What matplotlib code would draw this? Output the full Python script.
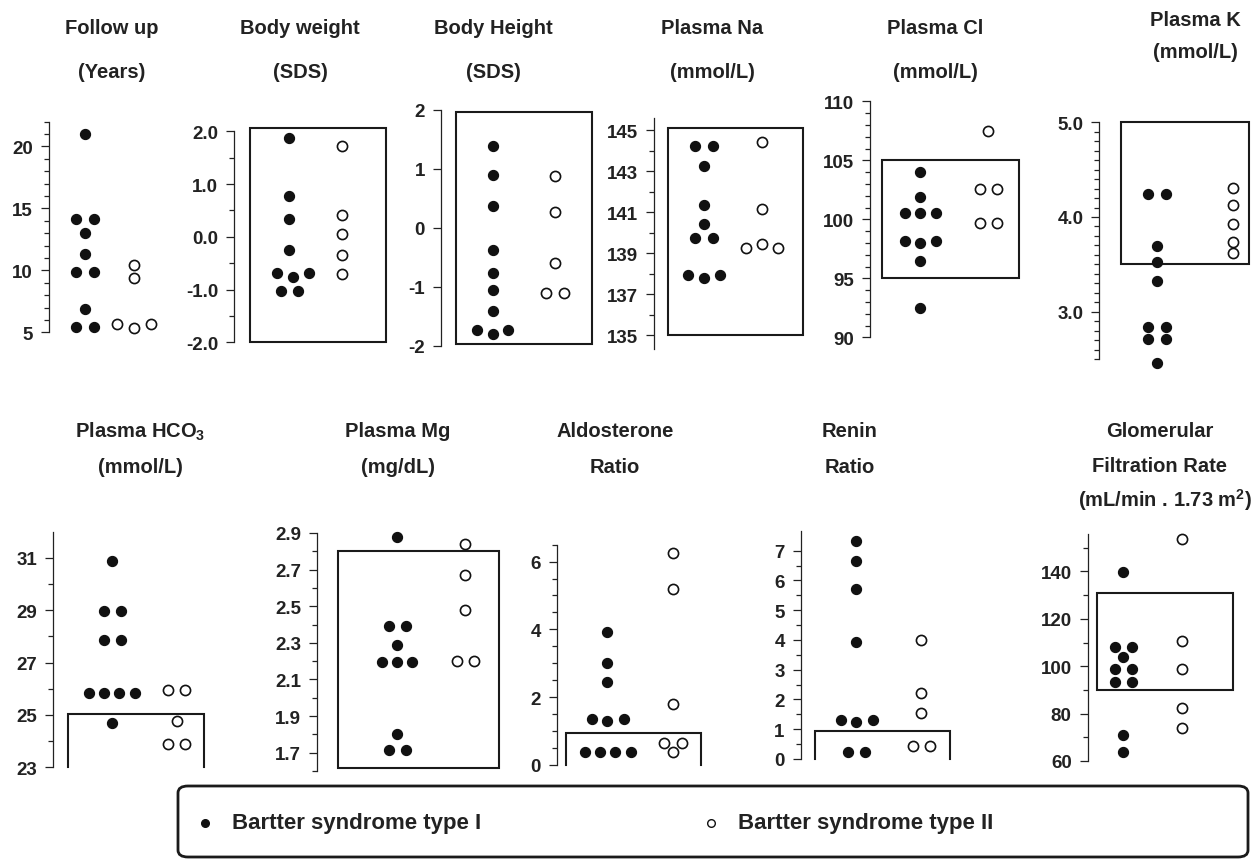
import matplotlib
matplotlib.use('Agg')
import matplotlib.pyplot as plt
from matplotlib.patches import FancyBboxPatch, Rectangle
from matplotlib.lines import Line2D

plt.rcParams['font.family'] = ['Liberation Sans', 'DejaVu Sans']
plt.rcParams['font.weight'] = 'bold'
plt.rcParams['mathtext.fontset'] = 'custom'
plt.rcParams['mathtext.rm'] = 'Liberation Sans:bold'
plt.rcParams['mathtext.bf'] = 'Liberation Sans:bold'
plt.rcParams['mathtext.it'] = 'Liberation Sans:bold'

# ---------------- data ----------------
followup_I = [21.0, 14.1, 14.1, 13.0, 11.3, 9.9, 9.9, 6.9, 5.4, 5.4]
followup_II = [10.4, 9.4, 5.7, 5.35, 5.7]
weight_I = [1.87, 0.78, 0.33, -0.25, -0.69, -0.77, -0.69, -1.03, -1.03]
weight_II = [1.73, 0.41, 0.06, -0.34, -0.71]
height_I = [1.38, 0.89, 0.37, -0.37, -0.76, -1.06, -1.40, -1.73, -1.79, -1.73]
height_II = [0.87, 0.26, -0.59, -1.10, -1.10]
na_I = [144.2, 144.2, 143.25, 141.35, 140.4, 139.75, 139.75, 137.95, 137.8, 137.95]
na_II = [144.4, 141.15, 139.45, 139.25, 139.25]
cl_I = [104.0, 101.85, 100.5, 100.5, 100.5, 98.2, 97.95, 98.2, 96.5, 92.5]
cl_II = [107.5, 102.6, 102.6, 99.7, 99.7]
k_I = [4.24, 4.24, 3.69, 3.52, 3.32, 2.84, 2.84, 2.71, 2.71, 2.46]
k_II = [4.31, 4.13, 3.93, 3.74, 3.62]
hco3_I = [30.89, 28.97, 28.97, 27.84, 27.84, 25.85, 25.85, 25.85, 25.85, 24.7]
hco3_II = [25.94, 25.94, 24.76, 23.89, 23.89]
mg_I = [2.876, 2.39, 2.39, 2.286, 2.195, 2.195, 2.195, 1.80, 1.714, 1.714]
mg_II = [2.84, 2.67, 2.48, 2.20, 2.20]
aldo_I = [3.91, 3.02, 2.46, 1.37, 1.29, 1.37, 0.39, 0.39, 0.39, 0.39]
aldo_II = [6.26, 5.19, 1.80, 0.65, 0.65, 0.37]
renin_I = [7.31, 6.64, 5.70, 3.93, 1.32, 1.23, 1.32, 0.245, 0.245]
renin_II = [4.0, 2.23, 1.55, 0.45, 0.45]
gfr_I = [139.9, 108.1, 108.1, 103.9, 99.0, 99.0, 93.5, 93.5, 71.1, 64.0]
gfr_II = [153.8, 110.7, 98.7, 82.4, 73.9]

# normal ranges (low, high)
weight_range = (-2.0, 2.06)
height_range = (-1.97, 1.96)
na_range = (135.0, 145.1)
cl_range = (95.0, 105.0)
k_range = (3.5, 5.0)
hco3_range = (23.0, 25.05)
mg_range = (1.615, 2.80)
aldo_range = (0.0, 0.95)
renin_range = (0.0, 0.95)
gfr_range = (90.0, 131.0)

legend_labels = ['Bartter syndrome type I', 'Bartter syndrome type II']

# ---------------- layout ----------------
W, H = 1251, 862
fig = plt.figure(figsize=(W / 100, H / 100), dpi=100)

UNIT = 16.0  # px per horizontal slot

panels = [
    dict(I=followup_I, II=followup_II, rng=None,
         offI=[0, -.55, .55, 0, 0, -.55, .55, 0, -.55, .55], offII=[0, 0, -1.05, 0, 1.05],
         sx=49, rx=175, ylim=(5, 22), ypx=(333.3, 122.5), sb=(5, 22),
         major=[5, 10, 15, 20], labels=['5', '10', '15', '20'], minor=list(range(6, 23)),
         cI=85, cII=134.3, box=None, openb=False),
    dict(I=weight_I, II=weight_II, rng=weight_range,
         offI=[0, 0, 0, 0, -0.75, 0.27, 1.22, -0.52, 0.56], offII=[0] * 5,
         sx=234.3, rx=386, ylim=(-2, 2.06), ypx=(343.3, 129.1), sb=(-2, 2),
         major=[-2, -1, 0, 1, 2], labels=['-2.0', '-1.0', '0.0', '1.0', '2.0'],
         minor=[-1.5, -0.5, 0.5, 1.5],
         cI=289, cII=342.3, box=(250.3, 386), openb=False),
    dict(I=height_I, II=height_II, rng=height_range,
         offI=[0] * 7 + [-1, 0, 0.98], offII=[0, 0, 0, -0.57, 0.55],
         sx=441, rx=592, ylim=(-2, 2), ypx=(347, 110.7), sb=(-2, 2),
         major=[-2, -1, 0, 1, 2], labels=['-2', '-1', '0', '1', '2'], minor=[],
         cI=492.7, cII=555, box=(456, 592), openb=False),
    dict(I=na_I, II=na_II, rng=na_range,
         offI=[-.52, .55, 0, 0, 0, -.52, .55, -1, 0, 1], offII=[0, 0, 0, -1, 1],
         sx=654, rx=803, ylim=(134.3, 145.6), ypx=(350.4, 118.7), sb=(134.3, 145.6),
         major=[135, 137, 139, 141, 143, 145], labels=['135', '137', '139', '141', '143', '145'],
         minor=[136, 138, 140, 142, 144],
         cI=703.7, cII=761.7, box=(667.7, 803), openb=False),
    dict(I=cl_I, II=cl_II, rng=cl_range,
         offI=[0, 0, -.96, 0, .96, -.96, 0, .96, 0, 0], offII=[0, -.55, .55, -.55, .55],
         sx=870, rx=1018.7, ylim=(90, 110), ypx=(338.3, 102.3), sb=(90, 110),
         major=[90, 95, 100, 105, 110], labels=['90', '95', '100', '105', '110'],
         minor=[v for v in range(91, 110) if v % 5],
         cI=920.3, cII=988.3, box=(882.3, 1018.7), openb=False),
    dict(I=k_I, II=k_II, rng=k_range,
         offI=[-.52, .58, 0, 0, 0, -.52, .58, -.52, .58, 0], offII=[0] * 5,
         sx=1099.3, rx=1249, ylim=(2.5, 5.0), ypx=(360.05, 123.3), sb=(2.5, 5.0),
         major=[3.0, 4.0, 5.0], labels=['3.0', '4.0', '5.0'],
         minor=[round(2.5 + 0.1 * i, 1) for i in range(26) if round(2.5 + 0.1 * i, 1) not in (3.0, 4.0, 5.0)],
         cI=1156.7, cII=1232.7, box=(1121, 1249), openb=False),
    dict(I=hco3_I, II=hco3_II, rng=hco3_range,
         offI=[0, -.48, .56, -.48, .56, -1.4, -.46, .48, 1.46, 0], offII=[-.52, .52, 0, -.52, .52],
         sx=53.3, rx=204, ylim=(23, 32), ypx=(768.3, 532.5), sb=(23, 32),
         major=[23, 25, 27, 29, 31], labels=['23', '25', '27', '29', '31'], minor=[24, 26, 28, 30],
         cI=111.7, cII=176.7, box=(68.3, 204), openb=True),
    dict(I=mg_I, II=mg_II, rng=mg_range,
         offI=[0, -.52, .54, 0, -.94, 0, .92, 0, -.52, .54], offII=[0, 0, 0, -.54, .54],
         sx=317.3, rx=499.3, ylim=(1.6, 2.9), ypx=(772, 534), sb=(1.6, 2.9),
         major=[1.7, 1.9, 2.1, 2.3, 2.5, 2.7, 2.9], labels=['1.7', '1.9', '2.1', '2.3', '2.5', '2.7', '2.9'],
         minor=[1.6, 1.8, 2.0, 2.2, 2.4, 2.6, 2.8],
         cI=397.3, cII=465.3, box=(337.7, 499.3), openb=False),
    dict(I=aldo_I, II=aldo_II, rng=aldo_range,
         offI=[0, 0, 0, -.96, 0, 1.04, -1.36, -.42, .52, 1.47], offII=[0, 0, 0, -.55, .58, 0],
         sx=556.7, rx=701.3, ylim=(0, 6.5), ypx=(766, 545.6), sb=(0, 6.5),
         major=[0, 2, 4, 6], labels=['0', '2', '4', '6'], minor=[0.5, 1, 1.5, 2.5, 3, 3.5, 4.5, 5, 5.5, 6.5],
         cI=607, cII=672.7, box=(565.7, 701.3), openb=True),
    dict(I=renin_I, II=renin_II, rng=renin_range,
         offI=[0, 0, 0, 0, -.94, 0, 1.04, -.52, .58], offII=[0, 0, 0, -.52, .56],
         sx=800.7, rx=950, ylim=(0, 7.65), ypx=(760, 532.3), sb=(0, 7.65),
         major=list(range(8)), labels=[str(i) for i in range(8)],
         minor=[i + 0.5 for i in range(7)],
         cI=856, cII=921, box=(815, 950), openb=True),
    dict(I=gfr_I, II=gfr_II, rng=gfr_range,
         offI=[0, -.5, .6, 0, -.5, .6, -.5, .6, 0, 0], offII=[0] * 5,
         sx=1087.7, rx=1233.3, ylim=(60, 156), ypx=(762, 534.5), sb=(60, 156),
         major=[60, 80, 100, 120, 140], labels=['60', '80', '100', '120', '140'],
         minor=[70, 90, 110, 130, 150],
         cI=1122.7, cII=1181.7, box=(1097.3, 1233.3), openb=False),
]

MS = 7.3
for p in panels:
    ylo_px, yhi_px = p['ypx']
    ax = fig.add_axes([p['sx'] / W, 1 - ylo_px / H, (p['rx'] - p['sx']) / W, (ylo_px - yhi_px) / H])
    ax.set_xlim(p['sx'], p['rx'])
    ax.set_ylim(*p['ylim'])
    ax.patch.set_alpha(0)
    for s in ('top', 'right', 'bottom'):
        ax.spines[s].set_visible(False)
    ax.spines['left'].set_bounds(*p['sb'])
    ax.spines['left'].set_linewidth(0.9)
    ax.spines['left'].set_color('#222222')
    ax.set_xticks([])
    ax.set_yticks(p['major'])
    ax.set_yticklabels(p['labels'])
    ax.set_yticks(p['minor'], minor=True)
    ax.tick_params(axis='y', which='major', length=5.5, width=0.9, labelsize=13.5, pad=6,
                   color='#222222', labelcolor='#222222')
    ax.tick_params(axis='y', which='minor', length=3.5, width=0.9, color='#222222')
    for lab in ax.get_yticklabels():
        lab.set_fontweight('bold')

    if p['box'] is not None:
        x0, x1 = p['box']
        lo, hi = p['rng']
        if p['openb']:
            ax.plot([x0, x0, x1, x1], [lo, hi, hi, lo], color='#1a1a1a', lw=1.5, clip_on=False,
                    solid_joinstyle='miter')
        else:
            ax.add_patch(Rectangle((x0, lo), x1 - x0, hi - lo, fill=False, ec='#1a1a1a', lw=1.5,
                                   clip_on=False))

    xI = [p['cI'] + o * UNIT for o in p['offI']]
    xII = [p['cII'] + o * UNIT for o in p['offII']]
    ax.plot(xI, p['I'], 'o', ms=MS, mfc='#111111', mec='#111111', mew=0.8, ls='none', clip_on=False)
    ax.plot(xII, p['II'], 'o', ms=MS, mfc='white', mec='#111111', mew=1.2, ls='none', clip_on=False)

# ---------------- titles ----------------
TFS = 14.5
def title(x, y, s):
    fig.text(x / W, 1 - y / H, s, ha='center', va='center', fontsize=TFS, fontweight='bold',
             color='#222222')

title(112, 28, 'Follow up'); title(112, 73, '(Years)')
title(300, 28, 'Body weight'); title(300, 73, '(SDS)')
title(493, 28, 'Body Height'); title(493, 73, '(SDS)')
title(712, 28, 'Plasma Na'); title(712, 73, '(mmol/L)')
title(935, 28, 'Plasma Cl'); title(935, 73, '(mmol/L)')
title(1195, 20, 'Plasma K'); title(1195, 53, '(mmol/L)')
title(140, 432, r'Plasma HCO$_{3}$'); title(140, 468, '(mmol/L)')
title(398, 432, 'Plasma Mg'); title(398, 468, '(mg/dL)')
title(615, 432, 'Aldosterone'); title(615, 468, 'Ratio')
title(850, 432, 'Renin'); title(850, 468, 'Ratio')
title(1160, 432, 'Glomerular'); title(1160, 466, 'Filtration Rate')
title(1165, 500, r'(mL/min . 1.73 m$^{2}$)')

# ---------------- legend ----------------
lx0, lx1, ly0, ly1 = 178, 1248, 787, 858
fig.patches.append(FancyBboxPatch((lx0 / W, 1 - ly1 / H), (lx1 - lx0) / W, (ly1 - ly0) / H,
                                  boxstyle='round,pad=0,rounding_size=0.008', transform=fig.transFigure,
                                  fill=False, ec='#1a1a1a', lw=2.0))
ly = 1 - 824 / H
fig.lines.append(Line2D([205 / W], [ly], marker='o', ms=5.5, mfc='#111111', mec='#111111',
                        transform=fig.transFigure))
fig.lines.append(Line2D([711 / W], [ly], marker='o', ms=5.5, mfc='white', mec='#111111', mew=1.0,
                        transform=fig.transFigure))
fig.text(232 / W, ly, legend_labels[0], ha='left', va='center', fontsize=16, fontweight='bold', color='#222222')
fig.text(738 / W, ly, legend_labels[1], ha='left', va='center', fontsize=16, fontweight='bold', color='#222222')

fig.savefig('out.png', dpi=100)
